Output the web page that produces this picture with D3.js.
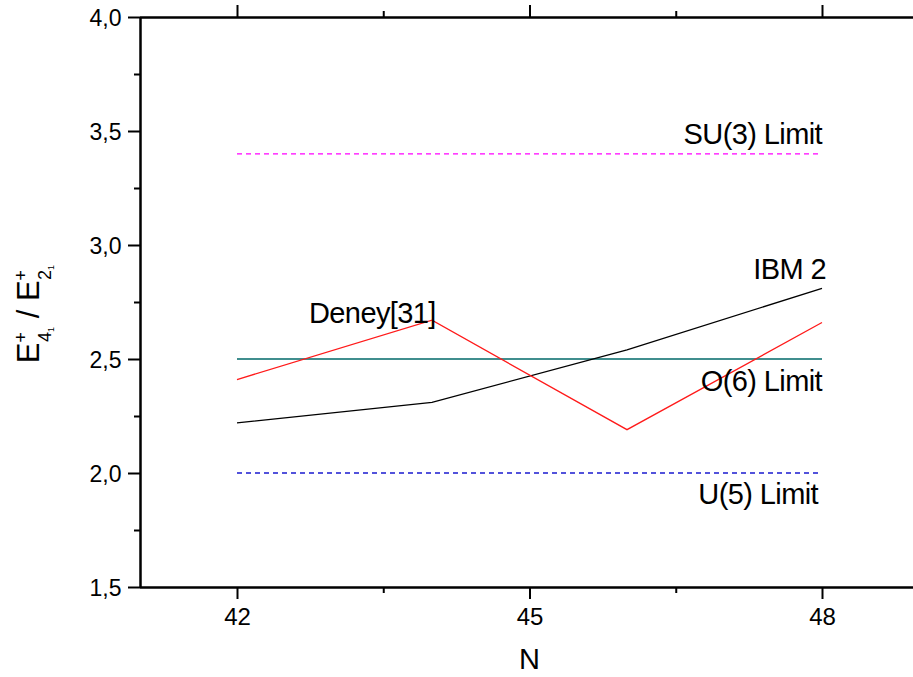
<!DOCTYPE html>
<html><head><meta charset="utf-8">
<script src="https://cdn.jsdelivr.net/npm/d3@7"></script>
<style>body{margin:0;background:#fff}svg{display:block}text{font-family:"Liberation Sans",Arial,sans-serif;fill:#000}</style>
</head><body><svg id="c" width="913" height="677"></svg>
<script>
const N = [42, 44, 46, 48];
const ibm2 = [2.22, 2.31, 2.54, 2.81];
const deney = [2.41, 2.67, 2.19, 2.66];
const su3 = [3.4, 3.4];
const o6 = [2.5, 2.5];
const u5 = [2.0, 2.0];
const limitN = [42, 48];
const xMajor = [42, 45, 48];
const xMinor = [43.5, 46.5];
const yMajor = [1.5, 2.0, 2.5, 3.0, 3.5, 4.0];
const yMinor = [1.75, 2.25, 2.75, 3.25, 3.75];

const svg = d3.select("#c");
const x = d3.scaleLinear().domain([41, 49]).range([139.5, 919.5]);
const y = d3.scaleLinear().domain([1.5, 4]).range([587, 17]);
const fmt = d => d3.format(".1f")(d).replace(".", ",");

// axes
const gB = svg.append("g").attr("transform", "translate(0,587)");
gB.call(d3.axisBottom(x).tickValues(xMajor).tickSize(12).tickSizeOuter(0).tickFormat(d3.format("d")));
gB.append("g").call(d3.axisBottom(x).tickValues(xMinor).tickSize(6).tickSizeOuter(0).tickFormat(""));
const gT = svg.append("g").attr("transform", "translate(0,17)");
gT.call(d3.axisTop(x).tickValues(xMajor).tickSize(12).tickSizeOuter(0).tickFormat(""));
gT.append("g").call(d3.axisTop(x).tickValues(xMinor).tickSize(6).tickSizeOuter(0).tickFormat(""));
const gL = svg.append("g").attr("transform", "translate(140,0)");
gL.call(d3.axisLeft(y).tickValues(yMajor).tickSize(12).tickSizeOuter(0).tickFormat(fmt));
gL.append("g").call(d3.axisLeft(y).tickValues(yMinor).tickSize(6).tickSizeOuter(0).tickFormat(""));
svg.selectAll(".domain").attr("stroke", "#000").attr("stroke-width", 2);
svg.selectAll(".tick line").attr("stroke", "#000").attr("stroke-width", 2);
gB.selectAll(".tick text").attr("font-size", 24).attr("dy", "0.95em");
gL.selectAll(".tick text").attr("font-size", 23).attr("dx", "-0.15em").attr("dy", "0.35em");

// lines
const line = d3.line().x(d => x(d[0])).y(d => y(d[1]));
function draw(xs, ys, color, dash) {
  svg.append("path").datum(d3.zip(xs, ys)).attr("d", line)
    .attr("fill", "none").attr("stroke", color).attr("stroke-width", 1.3)
    .attr("stroke-dasharray", dash || null);
}
draw(limitN, su3, "#ff00ff", "5,4");
draw(limitN, o6, "#006868");
draw(limitN, u5, "#1a1ad0", "5,4");
draw(N, ibm2, "#000");
draw(N, deney, "#ff1a1a");

// labels
function lab(t, xv, yv, anchor) {
  svg.append("text").attr("x", xv).attr("y", yv).attr("text-anchor", anchor)
    .attr("font-size", 29).attr("letter-spacing", "-0.6").text(t);
}
lab("SU(3) Limit", x(48), 144, "end");
lab("IBM 2", x(48) + 4, 279, "end");
lab("O(6) Limit", x(48), 391, "end");
lab("U(5) Limit", x(48) - 4, 504, "end");
lab("Deney[31]", 309, 323, "start");

// axis titles
svg.append("text").attr("x", x(45)).attr("y", 669).attr("text-anchor", "middle").attr("font-size", 29).text("N");
const yt = svg.append("text").attr("transform", "translate(39,314) rotate(-90)").attr("text-anchor", "middle").attr("font-size", 31);
yt.append("tspan").text("E");
yt.append("tspan").attr("font-size", 18).attr("dy", -12).text("+");
yt.append("tspan").attr("font-size", 18).attr("dx", -10).attr("dy", 24).text("4");
yt.append("tspan").attr("font-size", 9).attr("dy", 3).text("1");
yt.append("tspan").attr("dy", -15).text(" / E");
yt.append("tspan").attr("font-size", 18).attr("dy", -12).text("+");
yt.append("tspan").attr("font-size", 18).attr("dx", -10).attr("dy", 24).text("2");
yt.append("tspan").attr("font-size", 9).attr("dy", 3).text("1");
</script></body></html>
